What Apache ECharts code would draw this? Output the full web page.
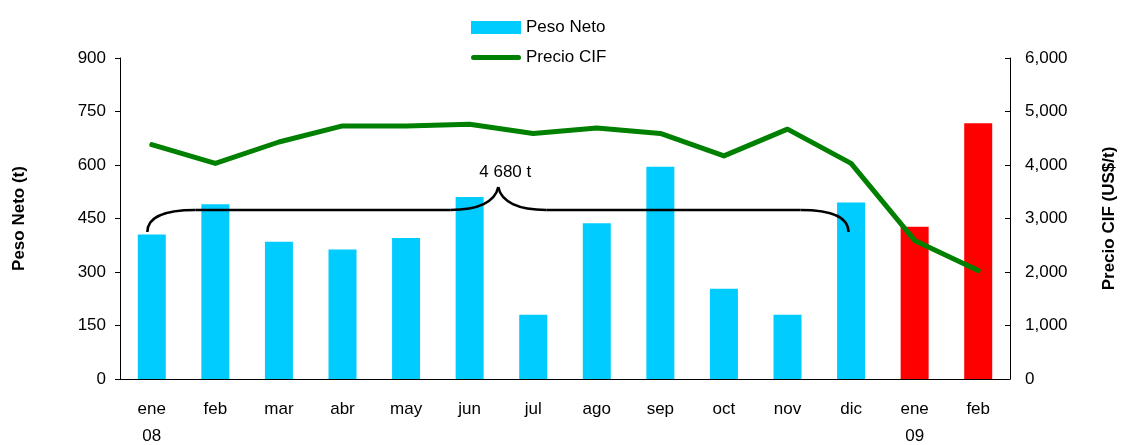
<!DOCTYPE html>
<html>
<head>
<meta charset="utf-8">
<script src="https://cdn.jsdelivr.net/npm/echarts@6/dist/echarts.min.js"></script>
<style>
  html, body { margin: 0; padding: 0; background: #fff; }
  #chart { width: 1121px; height: 445px; }
</style>
</head>
<body>
<div id="chart"></div>
<script>
// categorias (mes + año)
const meses = ['ene 08', 'feb 08', 'mar 08', 'abr 08', 'may 08', 'jun 08', 'jul 08',
  'ago 08', 'sep 08', 'oct 08', 'nov 08', 'dic 08', 'ene 09', 'feb 09'];
// Peso Neto (t)
const pesoNeto = [405, 490, 385, 363, 395, 510, 180, 437, 595, 253, 180, 495, 427, 717];
// Precio CIF (US$/t)
const precioCIF = [4380, 4030, 4430, 4730, 4730, 4760, 4590, 4690, 4590, 4170, 4670, 4030, 2590, 2030];
// ticks
const ticksPeso = [0, 150, 300, 450, 600, 750, 900];
const ticksPrecio = [0, 1000, 2000, 3000, 4000, 5000, 6000];
// total 2008
const totalTexto = '4 680 t';

const FONT = 'Liberation Sans, Arial, sans-serif';
const chart = echarts.init(document.getElementById('chart'));

// icono de linea gruesa con extremos redondeados (la caja 50x13 la fijan los puntos vacios)
const iconoLinea = 'path://M0,0 L0,0 M2.5,4 L47.5,4 A2.5,2.5 0 0 1 47.5,9 L2.5,9 A2.5,2.5 0 0 1 2.5,4 Z M50,13 L50,13';

const option = {
  animation: false,
  textStyle: { fontFamily: FONT },
  grid: { left: 120, right: 111, top: 58, bottom: 66, outerBoundsMode: 'none' },
  legend: {
    orient: 'vertical',
    left: 466,
    top: 14,
    itemWidth: 50,
    itemHeight: 13,
    itemGap: 13,
    textStyle: { fontSize: 17, color: '#000', fontFamily: FONT },
    data: [
      { name: 'Peso Neto', icon: 'rect', itemStyle: { color: '#00CCFF' } },
      { name: 'Precio CIF', icon: iconoLinea, itemStyle: { color: '#008000' } }
    ]
  },
  xAxis: {
    type: 'category',
    data: meses,
    axisLine: { lineStyle: { color: '#000', width: 1 } },
    axisTick: { length: 6, lineStyle: { color: '#000' } },
    axisLabel: {
      color: '#000', fontSize: 17, fontFamily: FONT, margin: 17, lineHeight: 27,
      interval: 0,
      formatter: (v) => {
        const [m, a] = v.split(' ');
        return m === 'ene' ? m + '\n' + a : m;
      }
    }
  },
  yAxis: [
    {
      type: 'value', min: ticksPeso[0], max: ticksPeso[ticksPeso.length - 1], interval: 150,
      name: 'Peso Neto (t)', nameLocation: 'middle', nameRotate: 90, nameGap: 92,
      nameTextStyle: { fontSize: 17, fontWeight: 'bold', color: '#000', fontFamily: FONT },
      axisLine: { show: true, lineStyle: { color: '#000' } },
      axisTick: { show: true, length: 5, lineStyle: { color: '#000' } },
      axisLabel: { color: '#000', fontSize: 17, fontFamily: FONT, margin: 14 },
      splitLine: { show: false }
    },
    {
      type: 'value', min: ticksPrecio[0], max: ticksPrecio[ticksPrecio.length - 1], interval: 1000,
      name: 'Precio CIF (US$/t)', nameLocation: 'middle', nameRotate: 90, nameGap: 91,
      nameTextStyle: { fontSize: 17, fontWeight: 'bold', color: '#000', fontFamily: FONT },
      axisLine: { show: true, lineStyle: { color: '#000' } },
      axisTick: { show: true, inside: true, length: 5, lineStyle: { color: '#000' } },
      axisLabel: { color: '#000', fontSize: 17, fontFamily: FONT, margin: 15,
        formatter: (v) => v.toLocaleString('en-US') },
      splitLine: { show: false }
    }
  ],
  series: [
    {
      name: 'Peso Neto',
      type: 'bar',
      yAxisIndex: 0,
      barWidth: 28,
      data: pesoNeto,
      itemStyle: {
        color: (p) => meses[p.dataIndex].endsWith('09') ? '#FF0000' : '#00CCFF'
      }
    },
    {
      name: 'Precio CIF',
      type: 'line',
      yAxisIndex: 1,
      data: precioCIF,
      symbol: 'none',
      itemStyle: { color: '#008000' },
      lineStyle: { color: '#008000', width: 5, cap: 'round', join: 'round' },
      z: 5
    }
  ]
};
chart.setOption(option);

// llave con el total de 2008
function dibujarLlave() {
  const px = (i, v) => chart.convertToPixel({ xAxisIndex: 0, yAxisIndex: 0 }, [i, v]);
  const x0 = px(0, 0)[0], x1 = px(1, 0)[0];
  const cw = x1 - x0;
  const xAt = (idx) => x0 + cw * idx;
  const yAt = (v) => px(0, v)[1];

  const xl = xAt(-0.07), xp = xAt(5.45), xr = xAt(10.96);
  const yt = yAt(412), yh = yAt(474), yp = yAt(538);
  const c = 48;
  const estilo = { fill: null, stroke: '#000', lineWidth: 2.5 };

  const trazos = [
    { type: 'bezierCurve', shape: { x1: xl, y1: yt, cpx1: xl, cpy1: yh + 8, cpx2: xl + 15, cpy2: yh, x2: xl + c, y2: yh } },
    { type: 'line', shape: { x1: xl + c, y1: yh, x2: xp - c, y2: yh } },
    { type: 'bezierCurve', shape: { x1: xp - c, y1: yh, cpx1: xp - 20, cpy1: yh, cpx2: xp - 3, cpy2: yh - 8, x2: xp, y2: yp } },
    { type: 'bezierCurve', shape: { x1: xp, y1: yp, cpx1: xp + 3, cpy1: yh - 8, cpx2: xp + 20, cpy2: yh, x2: xp + c, y2: yh } },
    { type: 'line', shape: { x1: xp + c, y1: yh, x2: xr - c, y2: yh } },
    { type: 'bezierCurve', shape: { x1: xr - c, y1: yh, cpx1: xr - 15, cpy1: yh, cpx2: xr, cpy2: yh + 8, x2: xr, y2: yt } }
  ].map((t) => Object.assign(t, { style: estilo, z: 10 }));

  chart.setOption({
    graphic: trazos.concat([
      {
        type: 'text',
        x: xp + 7, y: yp - 15,
        style: {
          text: totalTexto, fill: '#000', fontSize: 17, fontFamily: FONT,
          align: 'center', verticalAlign: 'middle'
        },
        z: 10
      }
    ])
  });
}
dibujarLlave();
</script>
</body>
</html>
